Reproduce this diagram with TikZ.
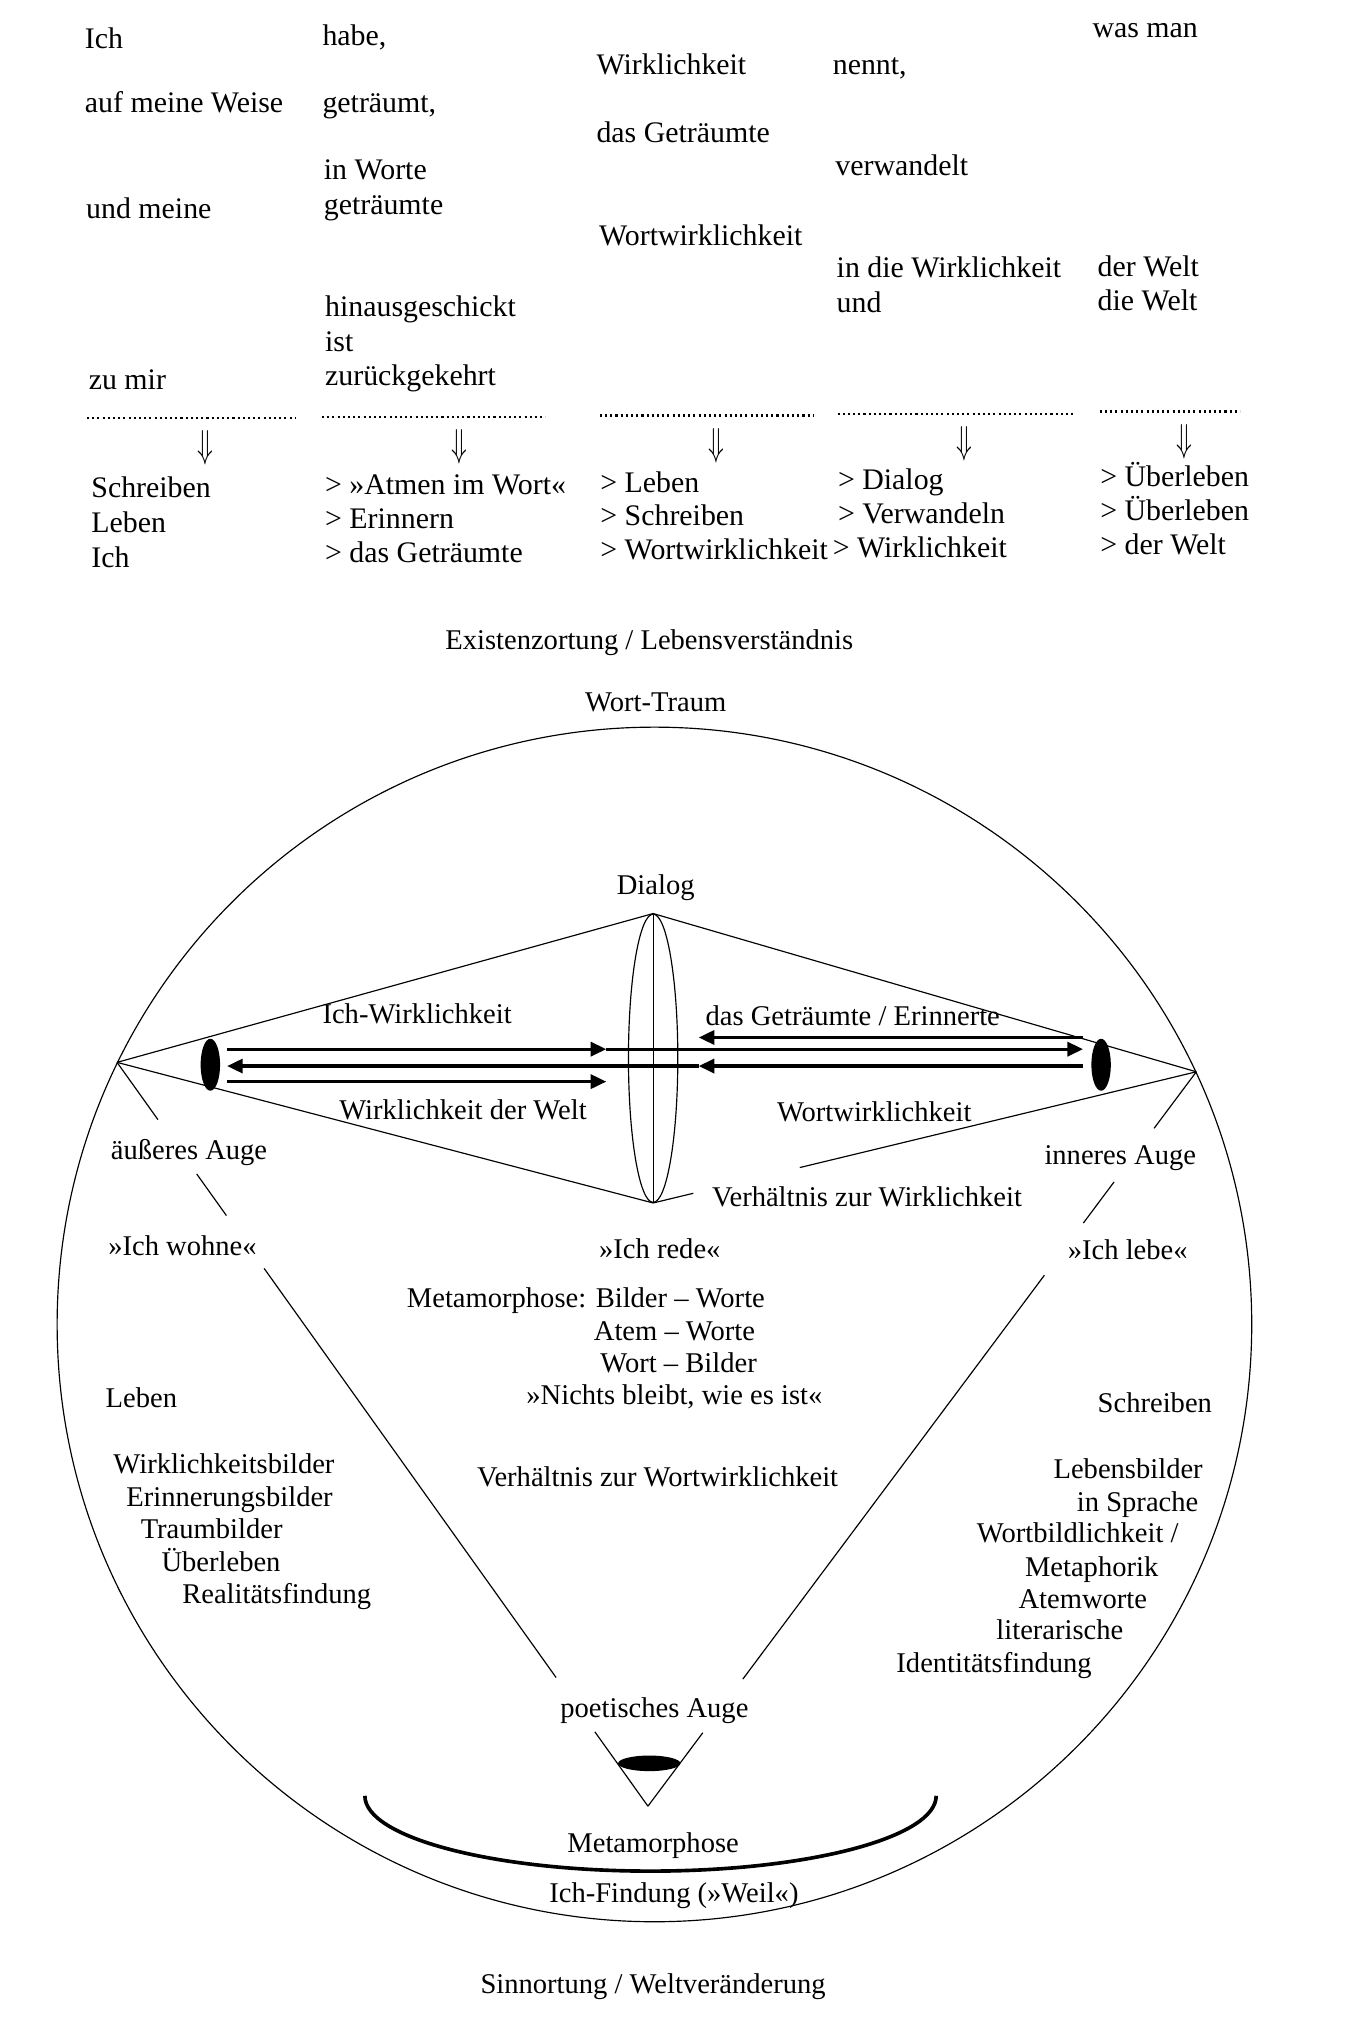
\documentclass[tikz,border=0pt]{standalone}
\usepackage{graphicx}
\usepackage{fontspec}
\setmainfont{Liberation Serif}
\usetikzlibrary{arrows.meta,shapes.geometric,calc}
\tikzset{
  >={Triangle[length=6pt,width=5.4pt]},
  word/.style={anchor=base west,inner sep=0pt,font=\fontsize{11.5}{14}\selectfont},
  note/.style={anchor=base west,inner sep=0pt,font=\fontsize{11}{13}\selectfont},
  headline/.style={anchor=base,inner sep=0pt,font=\fontsize{11}{13}\selectfont},
  rim/.style={line width=0.45pt},
  flow/.style={->,line width=1.2pt},
  dots/.style={line width=0.9pt,dash pattern=on 0.8pt off 1.2pt},
  eyeball/.style={ellipse,fill=black,inner sep=0pt,minimum width=7.5pt,minimum height=20pt},
}

\begin{document}
\begin{tikzpicture}[x=0.5pt,y=-0.5pt]
  \useasboundingbox (0,0) rectangle (1037,1568);
  % verse table
  \foreach \x/\y/\t [count=\i] in {65/37/Ich,65/87/auf meine Weise,66/168/und meine,68/300/zu mir,
    248/35/{habe,},248/87/{geträumt,},249/138/in Worte,249/165/geträumte,
    250/244/hinausgeschickt,250/271/ist,250/297/zurückgekehrt,
    459/57/Wirklichkeit,459/110/das Geträumte,461/189/Wortwirklichkeit,
    641/57/{nennt,},643/135/verwandelt,644/214/in die Wirklichkeit,644/241/und,
    841/29/was man,845/213/der Welt,845/239/die Welt}
    \node[word] (v\i) at (\x,\y) {\t};
  \foreach \a/\b/\y/\m [count=\i] in {67/228/322/158,248/420/321/354,462/627/320/552,645/827/319/743,847/955/317/912}
  {
    \draw[dots] (\a,\y) -- (\b,\y);
    \node[inner sep=0pt] (down\i) at (\m,\y+23) {\scalebox{1}[1.5]{$\Downarrow$}};
  }
  \foreach \x/\y/\t [count=\i] in {70/383/Schreiben,70/410/Leben,70/437/Ich,
    250/381/> »Atmen im Wort«,250/407/> Erinnern,250/433/> das Geträumte,
    462/379/> Leben,462/405/> Schreiben,462/431/> Wortwirklichkeit,
    645/377/> Dialog,645/403/> Verwandeln,641/429/> Wirklichkeit,
    847/375/> Überleben,847/401/> Überleben,847/427/> der Welt}
    \node[word] (r\i) at (\x,\y) {\t};
  \node[headline] (exist) at (500,500) {Existenzortung / Lebensverständnis};
  \node[headline] (wtraum) at (505,548) {Wort-Traum};
  \node[headline] (sinn) at (503,1535) {Sinnortung / Weltveränderung};

  % the circle
  \node[circle,draw,rim,minimum size=460pt,inner sep=0pt] (world) at (504,1020) {};
  \coordinate (lapex) at (world.154);
  \coordinate (rapex) at (world.25);
  \node[ellipse,draw,rim,minimum width=19pt,minimum height=111pt,inner sep=0pt] (lens) at (503,815) {};
  \draw[rim] (lens.north) -- (lens.south);
  \node[eyeball] (leye) at (162,820) {};
  \node[eyeball] (reye) at (848,820) {};
  \draw[rim] (lapex) -- (lens.north) -- (rapex);
  \draw[rim] (lapex) -- (lens.south) -- ($(lens.south)!0.074!(rapex)$);
  \draw[rim] ($(lens.south)!0.27!(rapex)$) -- (rapex);
  \node[headline] (dialog) at (505,689) {Dialog};

  \foreach \s [count=\i] in {10.5,6,-0.5,-6.5}
    \path ([xshift=2.5pt,yshift=\s pt]leye.east) coordinate (l\i)
          ([xshift=-3pt,yshift=\s pt]reye.west) coordinate (r\i)
          ($(l\i)!0.443!(r\i)$) coordinate (m\i)
          ($(l\i)!0.551!(r\i)$) coordinate (n\i);
  \draw[flow] (r1) -- (n1);
  \draw[flow] (l2) -- (m2);
  \draw[flow] (m2) -- (r2);
  \draw[flow] (r3) -- (n3);
  \draw[flow] (n3) -- (l3);
  \draw[flow] (l4) -- (m4);

  \coordinate (pvert) at (499,1391);
  \node[eyeball,minimum width=24pt,minimum height=6pt] (peye) at (500,1358) {};
  \foreach \a/\b in {0/0.077,0.15/0.206,0.277/0.827,0.9/1}
    \draw[rim] ($(lapex)!\a!(pvert)$) -- ($(lapex)!\b!(pvert)$)
               ($(rapex)!\a!(pvert)$) -- ($(rapex)!\b!(pvert)$);
  \draw[line width=1.4pt] (281,1383) arc[start angle=180,end angle=0,x radius=220,y radius=58];

  \foreach \x/\y/\t [count=\i] in {248/788/Ich-Wirklichkeit,543/790/{das Geträumte / Erinnerte},
    261/862/Wirklichkeit der Welt,598/864/Wortwirklichkeit,548/929/Verhältnis zur Wirklichkeit,
    85/893/äußeres Auge,804/897/inneres Auge,
    83/967/»Ich wohne«,461/969/»Ich rede«,822/970/»Ich lebe«,
    313/1007/Metamorphose: Bilder – Worte,457/1032/Atem – Worte,462/1057/Wort – Bilder,
    405/1082/{»Nichts bleibt, wie es ist«},367/1145/Verhältnis zur Wortwirklichkeit,
    81/1084/Leben,87/1135/Wirklichkeitsbilder,97/1160/Erinnerungsbilder,108/1185/Traumbilder,
    124/1210/Überleben,140/1235/Realitätsfindung,
    845/1088/Schreiben,811/1139/Lebensbilder,829/1164/in Sprache,752/1188/{Wortbildlichkeit /},
    789/1214/Metaphorik,784/1239/Atemworte,767/1263/literarische,690/1288/Identitätsfindung}
    \node[note] (c\i) at (\x,\y) {\t};
  \node[headline] (poetic) at (504,1323) {poetisches Auge};
  \node[headline] (metamorph) at (503,1427) {Metamorphose};
  \node[headline] (ichfind) at (519,1465) {Ich-Findung (»Weil«)};
\end{tikzpicture}
\end{document}
